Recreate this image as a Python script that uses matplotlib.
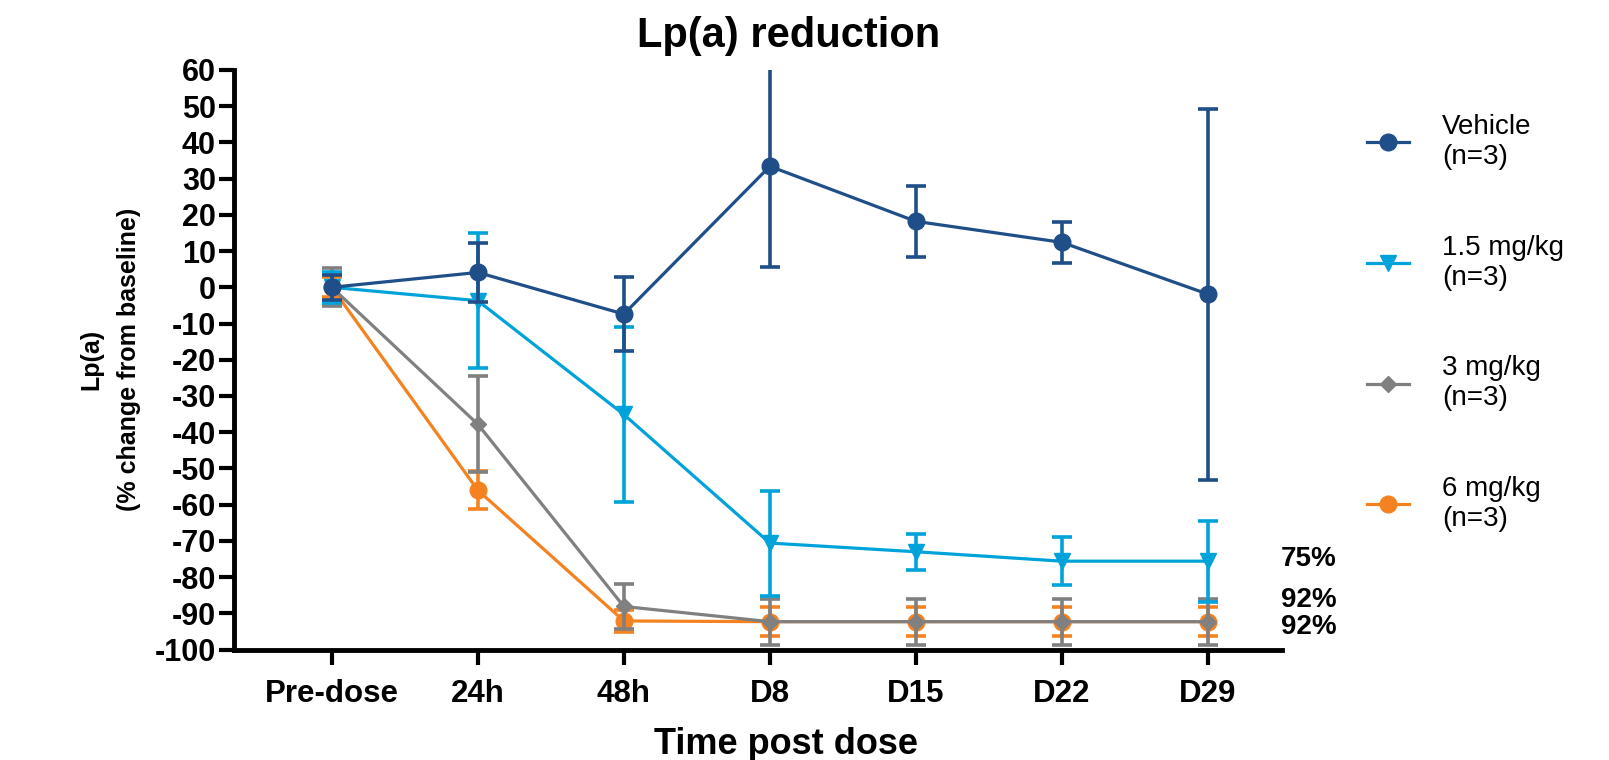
import numpy as np
import matplotlib.pyplot as plt

plt.rcParams['font.family'] = ['Liberation Sans', 'DejaVu Sans']
plt.rcParams['axes.unicode_minus'] = False

# time points on the x axis
timepoints = ['Pre-dose', '24h', '48h', 'D8', 'D15', 'D22', 'D29']

# mean % change from baseline and error (SEM)
vehicle_mean = [0, 4.1, -7.4, 33.4, 18.2, 12.4, -1.9]
vehicle_err = [3.5, 8.1, 10.3, 27.7, 9.8, 5.7, 51.2]

dose15_mean = [0, -3.7, -35.1, -70.6, -73.0, -75.6, -75.6]
dose15_err = [4.3, 18.7, 24.2, 14.5, 5.0, 6.7, 11.2]

dose3_mean = [0, -37.8, -88.1, -92.3, -92.3, -92.3, -92.3]
dose3_err = [5.3, 13.2, 6.2, 6.3, 6.3, 6.3, 6.3]

dose6_mean = [0, -56.0, -92.1, -92.3, -92.3, -92.3, -92.3]
dose6_err = [2.8, 5.2, 3.0, 4.0, 4.0, 4.0, 4.0]

end_labels = ['75%', '92%', '92%']
end_label_y = [-75, -86.4, -93.8]

x = np.arange(len(timepoints))

fig = plt.figure(figsize=(16.09, 7.6), dpi=100)
ax = fig.add_axes([0.1454, 0.1453, 0.6516, 0.7627])

series = [
    # (label, mean, err, color, marker, markersize, zorder)
    ('6 mg/kg\n(n=3)', dose6_mean, dose6_err, '#F58220', 'o', 12, 3),
    ('3 mg/kg\n(n=3)', dose3_mean, dose3_err, '#808080', 'D', 8, 4),
    ('1.5 mg/kg\n(n=3)', dose15_mean, dose15_err, '#00A3D9', 'v', 12, 5),
    ('Vehicle\n(n=3)', vehicle_mean, vehicle_err, '#1F4E89', 'o', 12, 6),
]

handles = {}
for label, mean, err, color, marker, ms, z in series:
    cont = ax.errorbar(x, mean, yerr=err, color=color, marker=marker,
                       markersize=ms, linewidth=2.3, elinewidth=2.6,
                       capsize=7, capthick=2.6, zorder=z, clip_on=True)
    handles[label] = cont[0]

for lab, yy in zip(end_labels, end_label_y):
    ax.text(6.5, yy, lab, fontsize=20, fontweight='bold', va='center',
            ha='left', clip_on=False)

ax.set_xlim(-0.67, 6.51)
ax.set_ylim(-100, 60)
ax.set_yticks(np.arange(-100, 61, 10))
ax.set_xticks(x)
ax.set_xticklabels(timepoints)

for s in ['top', 'right']:
    ax.spines[s].set_visible(False)
for s in ['left', 'bottom']:
    ax.spines[s].set_linewidth(3.5)

ax.tick_params(axis='y', length=11, width=3, labelsize=22, pad=2)
ax.tick_params(axis='x', length=11, width=3, labelsize=22.5, pad=10)
for t in ax.get_xticklabels() + ax.get_yticklabels():
    t.set_fontweight('bold')

ax.set_xlabel('Time post dose', fontsize=26, fontweight='bold', va='center')
ax.xaxis.set_label_coords(0.527, -0.163)
ax.set_ylabel('Lp(a)\n(% change from baseline)', fontsize=18,
              fontweight='bold', labelpad=10, linespacing=1.7)

fig.text(0.49, 0.952, 'Lp(a) reduction', fontsize=30, fontweight='bold',
         ha='center', va='center')

order = ['Vehicle\n(n=3)', '1.5 mg/kg\n(n=3)', '3 mg/kg\n(n=3)', '6 mg/kg\n(n=3)']
fig.legend([handles[k] for k in order], order, loc='upper left',
           bbox_to_anchor=(0.8496, 0.85), frameon=False, fontsize=20,
           handlelength=1.5, handletextpad=1.2, labelspacing=2.33,
           borderpad=0, borderaxespad=0)

plt.savefig('out.png', dpi=100)
